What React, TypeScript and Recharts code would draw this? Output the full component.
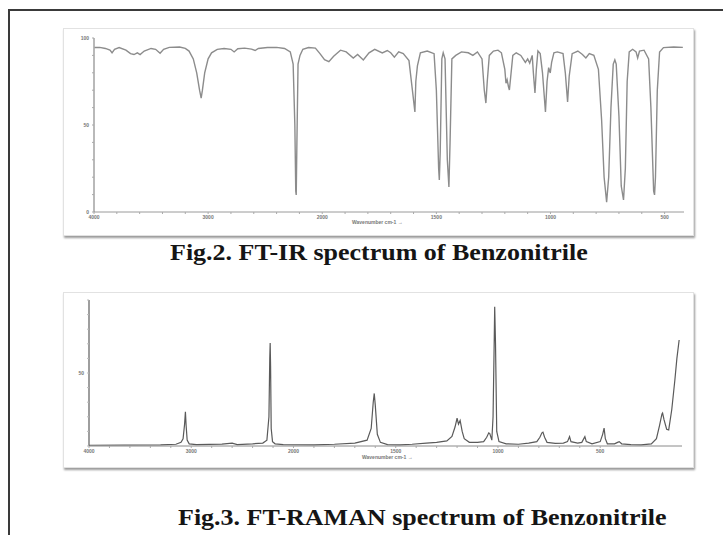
import React from "react";
import { LineChart, Line, XAxis, YAxis } from "recharts";

// ---------- FT-IR data (wavenumber cm-1, % transmittance) ----------
const IR_WAVENUMBER = [
  3995, 3950, 3900, 3860, 3842, 3820, 3780, 3720, 3680, 3650, 3620, 3596, 3560, 3500, 3460, 3421, 3390, 3340,
  3250, 3200, 3167, 3130, 3100, 3075, 3061, 3050, 3030, 3000, 2970, 2920, 2860, 2800, 2772, 2740, 2680, 2620,
  2588, 2560, 2480, 2400, 2330, 2280, 2255, 2240, 2232, 2228, 2222, 2212, 2195, 2170, 2120, 2060, 2020, 1990,
  1971, 1950, 1920, 1895, 1864, 1845, 1820, 1795, 1770, 1737, 1715, 1700, 1684, 1665, 1645, 1620, 1605, 1594,
  1590, 1583, 1570, 1540, 1510, 1500, 1490, 1487, 1483, 1476, 1470, 1462, 1452, 1445, 1440, 1432, 1415, 1390,
  1360, 1340, 1320, 1300, 1290, 1283, 1277, 1268, 1250, 1230, 1215, 1200, 1195, 1190, 1184, 1180, 1174, 1165,
  1150, 1130, 1110, 1100, 1091, 1080, 1075, 1068, 1062, 1055, 1045, 1035, 1022, 1015, 1008, 1001, 995, 985,
  970, 945, 935, 925, 918, 905, 880, 860, 845, 830, 810, 790, 776, 765, 754, 745, 735, 725, 718, 712, 700, 690,
  680, 672, 664, 655, 640, 625, 618, 610, 590, 570, 560, 548, 544, 540, 532, 522, 505, 460, 420,
];
const IR_TRANSMITTANCE = [
  94.5, 94.6, 94.0, 93.0, 91.5, 93.5, 94.5, 93.0, 91.0, 90.5, 91.5, 90.5, 92.5, 94.0, 93.5, 91.2, 93.5, 94.6,
  94.8, 94.0, 92.5, 88.0, 80.0, 70.0, 65.5, 70.0, 80.0, 88.0, 91.5, 93.5, 94.0, 93.5, 92.0, 93.8, 94.2, 93.6,
  92.8, 94.0, 94.5, 94.6, 94.0, 92.0, 85.0, 50.0, 12.0, 9.8, 40.0, 85.0, 90.0, 93.5, 94.5, 94.2, 91.0, 87.5,
  86.4, 89.5, 93.0, 92.0, 88.5, 90.5, 87.4, 91.5, 93.5, 91.4, 92.8, 91.5, 89.0, 92.0, 91.0, 87.0, 70.0, 57.5,
  75.0, 84.0, 91.5, 92.5, 91.0, 70.0, 25.0, 18.4, 35.0, 88.0, 91.5, 88.0, 30.0, 14.4, 40.0, 88.0, 90.0, 92.0,
  91.5, 90.0, 92.0, 88.0, 70.0, 62.6, 75.0, 90.0, 92.5, 93.0, 91.5, 82.0, 74.0, 76.0, 72.0, 70.1, 78.0, 90.0,
  91.5, 90.0, 86.0, 88.0, 85.6, 90.0, 80.0, 68.4, 82.0, 92.5, 91.0, 80.0, 57.5, 75.0, 83.0, 79.9, 86.0, 91.5,
  92.0, 91.0, 80.0, 63.2, 78.0, 91.0, 92.5, 90.5, 88.5, 91.0, 90.0, 82.0, 53.0, 20.0, 5.7, 20.0, 60.0, 85.0,
  87.4, 85.0, 55.0, 15.0, 6.9, 25.0, 75.0, 92.0, 93.5, 92.0, 88.5, 92.5, 93.0, 88.0, 60.0, 12.0, 9.8, 20.0,
  70.0, 92.0, 94.5, 94.8, 94.6,
];

// ---------- FT-Raman data (Raman shift cm-1, intensity) ----------
const RAMAN_WAVENUMBER = [
  4000, 3300, 3150, 3100, 3080, 3065, 3057, 3050, 3040, 3020, 2950, 2700, 2600, 2550, 2400, 2300, 2260, 2240,
  2232, 2228, 2224, 2218, 2205, 2180, 2100, 1900, 1800, 1700, 1640, 1620, 1610, 1605, 1600, 1590, 1575, 1540,
  1480, 1420, 1350, 1300, 1250, 1225, 1210, 1200, 1193, 1185, 1175, 1165, 1140, 1100, 1070, 1055, 1045, 1040,
  1030, 1024, 1018, 1016, 1012, 1006, 995, 960, 900, 850, 810, 795, 785, 780, 772, 760, 720, 680, 660, 650,
  643, 610, 590, 575, 568, 540, 500, 488, 481, 475, 465, 430, 415, 407, 395, 350, 300, 250, 225, 210, 198, 195,
  188, 175, 165, 150, 135, 125, 114,
];
const RAMAN_INTENSITY = [
  0.5, 0.8, 1.2, 2.5, 5, 15, 23.5, 14, 4, 1.5, 1, 1.3, 2, 1, 1.5, 2, 4, 20,
  60, 70.5, 55, 12, 3, 1.5, 1, 0.8, 1.2, 2, 4, 12, 30, 36, 28, 8, 2.5, 1,
  0.8, 1.2, 2, 2.5, 3.5, 6.5, 13, 19, 15, 17.5, 10, 5, 2.5, 2.5, 3, 6, 9, 8.5,
  4, 20, 75, 95.4, 70, 10, 3, 1.5, 1.2, 2, 3, 6, 9, 9.5, 6, 2.5, 1.8, 2, 3, 6.4,
  3, 2, 2.5, 6.4, 3, 1.5, 3, 8, 12.3, 5, 1.5, 1.5, 2.5, 3, 1.5, 1, 0.8, 1.5, 5, 14, 22, 22.6,
  18, 11.5, 11, 25, 45, 60, 72.6,
];

// ---------- Tick labels ----------
const X_TICK_LABELS = [4000, 3000, 2000, 1500, 1000, 500];
const X_MINOR_TICKS = [
  3800, 3600, 3400, 3200, 2800, 2600, 2400, 2200, 1900, 1800, 1700, 1600, 1400, 1300, 1200, 1100, 900, 800,
  700, 600,
];
const IR_Y_TICKS = [0, 10, 20, 30, 40, 50, 60, 70, 80, 90, 100];
const IR_Y_LABELS = [0, 50, 100];
const RAMAN_Y_TICKS = [0, 10, 20, 30, 40, 50, 60, 70, 80, 90, 100];
const RAMAN_Y_LABELS = [50];

const IR_TITLE = "Fig.2. FT-IR spectrum of Benzonitrile";
const RAMAN_TITLE = "Fig.3. FT-RAMAN spectrum of Benzonitrile";
const AXIS_TITLE = "Wavenumber cm-1";

// The instrument axis changes scale at 2000 cm-1 (1000 cm-1 per division above, 500 below).
const toPos = (wn: number) => (wn >= 2000 ? (4000 - wn) / 1000 : 2 + (2000 - wn) / 500);

const irData = IR_WAVENUMBER.map((w, i) => ({ u: toPos(w), v: IR_TRANSMITTANCE[i] }));
const ramanData = RAMAN_WAVENUMBER.map((w, i) => ({ u: toPos(w), v: RAMAN_INTENSITY[i] }));
const xTicks = [...X_TICK_LABELS, ...X_MINOR_TICKS].map(toPos).sort((a, b) => a - b);
const labelPos = X_TICK_LABELS.map(toPos);
const xFmt = (u: number) => {
  const i = labelPos.findIndex((p) => Math.abs(p - u) < 1e-6);
  return i >= 0 ? String(X_TICK_LABELS[i]) : "";
};

const tickStyle = { fontSize: 5, fill: "#777", fontFamily: "Arial", fontWeight: 700 };

const panelStyle = (left: number, top: number, w: number, h: number): React.CSSProperties => ({
  position: "absolute",
  left,
  top,
  width: w,
  height: h,
  background: "#fff",
  border: "1px solid #e2e2e2",
  boxShadow: "1px 2px 2px #9a9a9a",
  boxSizing: "border-box",
});

const titleStyle = (top: number, left: number): React.CSSProperties => ({
  position: "absolute",
  top,
  left,
  fontFamily: "'Liberation Serif', 'Times New Roman', serif",
  fontWeight: 700,
  fontSize: 23,
  lineHeight: "26px",
  color: "#151515",
  whiteSpace: "nowrap",
  transform: "scaleX(1.13)",
  transformOrigin: "0 0",
});

export default function App() {
  return (
    <div style={{ position: "absolute", left: 0, top: 0, width: 723, height: 535, background: "#fff", overflow: "hidden" }}>
      {/* outer frame */}
      <div style={{ position: "absolute", left: 8, top: 9, width: 730, height: 540, borderTop: "2px solid #3a3a3a", borderLeft: "2px solid #3a3a3a" }} />

      {/* FT-IR panel */}
      <div style={panelStyle(63, 28, 631, 208)} />
      <div style={{ position: "absolute", left: 0, top: 0 }}>
        <LineChart width={723} height={240} data={irData} margin={{ top: 38, right: 39, bottom: 8, left: 64 }}>
          <XAxis
            type="number"
            dataKey="u"
            domain={[0, 5.17]}
            ticks={xTicks}
            tickFormatter={xFmt}
            allowDataOverflow
            height={20}
            axisLine={{ stroke: "#9a9a9a", strokeWidth: 1 }}
            tickLine={{ stroke: "#aaa" }}
            tickSize={2}
            tickMargin={1}
            tick={tickStyle}
            interval={0}
          />
          <YAxis
            type="number"
            domain={[0, 100]}
            ticks={IR_Y_TICKS}
            tickFormatter={(v: number) => (IR_Y_LABELS.includes(v) ? String(v) : "")}
            width={30}
            axisLine={{ stroke: "#8a8a8a", strokeWidth: 1.2 }}
            tickLine={{ stroke: "#aaa" }}
            tickSize={2}
            tickMargin={3}
            tick={tickStyle}
            interval={0}
          />
          <Line type="linear" dataKey="v" stroke="#8c8c8c" strokeWidth={1.4} dot={false} isAnimationActive={false} />
        </LineChart>
      </div>
      <div style={{ position: "absolute", left: 352, top: 219, fontSize: 5, color: "#777", fontFamily: "Arial", fontWeight: 700 }}>
        {AXIS_TITLE} →
      </div>
      <div style={titleStyle(240, 170)}>{IR_TITLE}</div>

      {/* FT-Raman panel */}
      <div style={panelStyle(63, 292, 631, 176)} />
      <div style={{ position: "absolute", left: 0, top: 280 }}>
        <LineChart width={723} height={190} data={ramanData} margin={{ top: 20, right: 41, bottom: 6, left: 59 }}>
          <XAxis
            type="number"
            dataKey="u"
            domain={[0, 5.8]}
            ticks={xTicks}
            tickFormatter={xFmt}
            allowDataOverflow
            height={18}
            axisLine={{ stroke: "#8a8a8a", strokeWidth: 1 }}
            tickLine={{ stroke: "#aaa" }}
            tickSize={2}
            tickMargin={1}
            tick={tickStyle}
            interval={0}
          />
          <YAxis
            type="number"
            domain={[0, 100]}
            ticks={RAMAN_Y_TICKS}
            tickFormatter={(v: number) => (RAMAN_Y_LABELS.includes(v) ? String(v) : "")}
            width={30}
            axisLine={{ stroke: "#6a6a6a", strokeWidth: 1.3 }}
            tickLine={{ stroke: "#bbb" }}
            tickSize={2}
            tickMargin={3}
            tick={tickStyle}
            interval={0}
          />
          <Line type="linear" dataKey="v" stroke="#5a5a5a" strokeWidth={1.2} dot={false} isAnimationActive={false} />
        </LineChart>
      </div>
      <div style={{ position: "absolute", left: 362, top: 454, fontSize: 5, color: "#777", fontFamily: "Arial", fontWeight: 700 }}>
        {AXIS_TITLE} →
      </div>
      <div style={titleStyle(505, 178)}>{RAMAN_TITLE}</div>
    </div>
  );
}
